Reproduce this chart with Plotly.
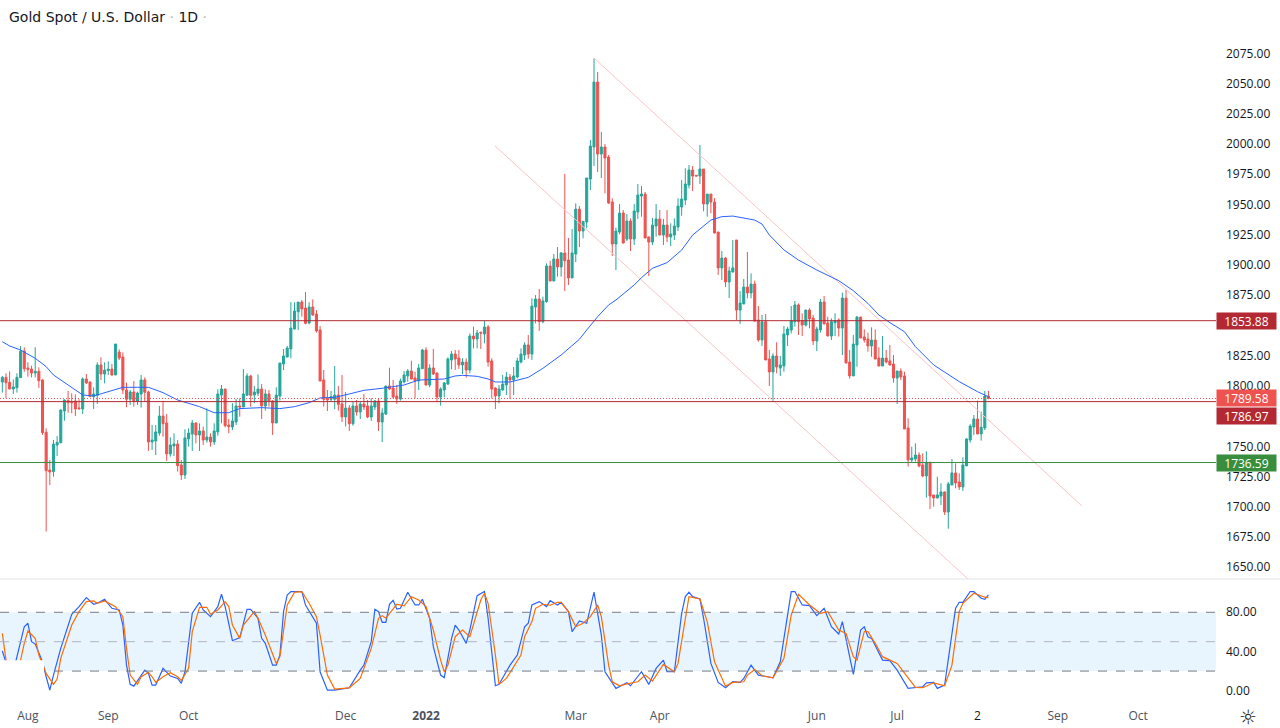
import plotly.graph_objects as go

# daily candles
opens = [1803.2,1807.0,1802.9,1797.4,1798.5,1806.8,1828.8,1814.8,1813.9,1810.6,1812.0,1804.9,1761.6,1730.4,1729.1,1751.1,1753.0,1779.2,1787.8,1786.4,
1787.5,1781.7,1780.9,1805.7,1803.2,1791.1,1792.2,1817.3,1809.8,1812.6,1813.9,1809.0,1828.0,1823.9,1796.6,1788.9,1794.9,1787.2,1793.3,1804.9,
1794.9,1753.6,1754.4,1761.0,1775.1,1769.3,1743.7,1750.3,1751.9,1734.6,1726.3,1756.1,1760.2,1769.3,1759.4,1762.7,1755.2,1757.7,1753.6,1761.9,
1792.4,1797.4,1767.6,1766.0,1770.1,1783.4,1782.5,1792.2,1808.2,1792.4,1793.8,1797.4,1783.4,1793.3,1787.5,1769.3,1791.6,1818.1,1823.9,1830.5,
1847.0,1861.3,1869.3,1864.4,1852.0,1865.2,1859.4,1846.2,1804.9,1789.7,1788.9,1788.9,1792.4,1785.0,1774.3,1781.7,1768.7,1783.4,1778.4,1785.0,
1783.4,1774.3,1782.5,1787.5,1770.1,1776.7,1799.9,1798.2,1791.6,1789.1,1803.2,1808.2,1812.3,1806.5,1804.0,1814.2,1829.6,1800.7,1814.8,1810.6,
1790.8,1796.6,1801.5,1821.4,1826.3,1823.0,1817.3,1819.7,1813.1,1841.2,1838.8,1844.3,1842.9,1848.7,1820.6,1798.2,1791.6,1796.6,1800.7,1807.3,
1804.9,1807.3,1819.7,1825.5,1833.8,1826.3,1865.2,1871.8,1853.1,1869.6,1899.1,1886.7,1904.9,1898.3,1909.9,1904.1,1889.2,1909.0,1946.2,1928.0,
1935.5,1971.0,1997.5,2051.2,1991.7,1997.5,1989.2,1952.0,1917.3,1927.2,1942.9,1921.4,1936.3,1921.4,1943.8,1957.0,1958.6,1923.1,1918.9,1932.2,
1938.0,1924.7,1933.0,1923.1,1924.7,1931.4,1947.9,1953.7,1966.1,1978.5,1974.1,1973.5,1979.3,1950.4,1958.6,1952.0,1927.2,1897.5,1905.7,1885.9,
1894.2,1920.6,1862.7,1867.7,1881.7,1876.8,1884.2,1854.5,1837.9,1853.1,1822.2,1811.5,1824.7,1814.8,1816.4,1842.1,1846.2,1853.1,1866.9,1853.9,
1850.3,1862.7,1856.1,1837.1,1846.2,1869.3,1852.0,1841.2,1852.2,1854.5,1847.8,1872.6,1819.7,1808.2,1833.8,1856.9,1840.4,1838.8,1833.0,1837.9,
1823.0,1816.4,1823.0,1820.6,1818.1,1806.5,1812.3,1808.2,1765.2,1738.7,1739.5,1742.8,1734.6,1725.5,1736.8,1709.8,1707.3,1709.0,1712.3,1695.7,
1718.0,1728.0,1720.5,1716.4,1733.8,1755.2,1766.0,1772.6,1760.2,1765.2,1791.6]
highs = [1808.2,1810.4,1812.0,1805.4,1810.4,1833.0,1831.9,1819.5,1816.7,1831.9,1815.3,1805.4,1764.9,1738.7,1755.2,1758.5,1780.6,1788.9,1795.8,1793.8,
1793.0,1788.9,1807.0,1809.8,1803.5,1798.8,1819.5,1823.6,1819.5,1820.3,1818.1,1834.6,1830.2,1827.7,1802.6,1796.6,1804.0,1795.2,1809.0,1807.0,
1796.0,1767.6,1767.6,1783.4,1787.2,1776.7,1757.5,1760.8,1755.2,1738.7,1764.1,1764.9,1771.8,1769.8,1769.0,1766.3,1781.4,1760.8,1769.0,1797.1,
1800.7,1797.4,1772.6,1785.6,1789.1,1789.7,1813.9,1810.4,1809.0,1799.9,1809.5,1801.5,1797.1,1796.6,1788.3,1798.8,1818.9,1830.5,1833.0,1869.3,
1869.1,1869.3,1871.0,1877.6,1869.1,1871.5,1862.7,1849.5,1813.1,1796.6,1795.8,1816.4,1799.9,1809.0,1794.9,1784.2,1787.2,1788.3,1787.5,1793.3,
1788.3,1789.7,1788.3,1789.7,1781.4,1799.9,1815.0,1804.9,1800.7,1806.0,1812.3,1813.9,1820.8,1811.7,1818.1,1830.5,1831.9,1817.8,1830.5,1810.9,
1798.8,1803.2,1823.6,1828.8,1829.7,1829.7,1822.8,1822.8,1843.4,1848.9,1846.2,1844.8,1853.6,1850.3,1822.8,1798.8,1800.7,1809.0,1811.5,1809.8,
1815.6,1823.3,1831.0,1836.0,1842.1,1872.4,1875.1,1880.1,1873.8,1901.3,1903.5,1909.0,1914.8,1910.7,1975.2,1922.3,1929.7,1950.9,1948.7,1936.3,
1971.9,2003.3,2070.8,2059.5,2009.9,2000.0,1990.9,1955.1,1930.8,1950.4,1945.4,1942.1,1938.5,1950.4,1966.9,1965.2,1960.3,1923.4,1938.8,1950.4,
1945.4,1938.0,1945.4,1934.4,1938.5,1955.1,1970.2,1979.9,1982.6,1981.8,1974.1,1999.1,1979.3,1958.6,1958.6,1955.3,1927.2,1911.5,1906.6,1898.6,
1920.6,1920.6,1878.4,1888.4,1910.7,1893.0,1887.0,1866.0,1858.6,1859.4,1829.7,1826.9,1836.0,1824.7,1849.5,1848.9,1866.0,1870.2,1868.2,1860.0,
1862.7,1864.1,1858.6,1849.0,1871.8,1874.3,1857.2,1855.8,1860.0,1855.8,1877.1,1879.3,1829.7,1842.1,1857.8,1857.2,1846.7,1844.0,1848.4,1846.7,
1831.9,1841.2,1829.7,1833.8,1825.5,1812.3,1814.5,1811.7,1773.2,1749.7,1752.5,1745.0,1744.2,1745.9,1736.8,1709.8,1724.9,1719.4,1712.5,1720.5,
1739.5,1735.9,1727.7,1740.9,1756.6,1768.2,1775.9,1787.8,1778.7,1795.8,1795.8]
lows = [1794.4,1789.7,1797.1,1793.3,1794.4,1806.8,1811.7,1807.6,1807.0,1807.0,1798.2,1759.4,1679.5,1718.0,1724.9,1742.0,1752.5,1771.2,1777.8,1777.3,
1775.1,1780.0,1776.7,1801.6,1791.1,1780.9,1785.0,1804.8,1802.1,1809.0,1808.4,1809.0,1821.4,1793.3,1782.3,1784.2,1782.8,1784.2,1782.0,1786.9,
1746.2,1747.0,1742.8,1758.8,1758.0,1737.9,1741.5,1742.0,1729.1,1722.2,1723.0,1749.7,1746.2,1752.5,1746.2,1751.1,1753.0,1749.7,1751.1,1758.8,
1769.0,1765.7,1760.8,1763.5,1767.6,1774.5,1782.5,1792.2,1782.8,1785.6,1791.6,1772.6,1779.5,1782.8,1759.4,1769.3,1787.8,1813.1,1823.6,1822.8,
1846.7,1846.2,1857.2,1850.9,1850.9,1857.8,1844.0,1804.0,1782.8,1779.2,1786.9,1780.6,1779.5,1770.1,1766.3,1762.7,1767.1,1775.4,1772.6,1780.0,
1773.2,1771.0,1780.0,1762.7,1753.6,1775.9,1796.6,1789.7,1785.0,1787.8,1802.1,1803.5,1805.4,1789.7,1796.6,1814.2,1800.4,1798.8,1809.0,1786.4,
1783.6,1790.5,1800.7,1813.7,1813.1,1814.0,1809.8,1806.8,1810.4,1831.0,1831.0,1830.5,1835.2,1815.9,1789.7,1780.9,1785.6,1796.0,1792.4,1789.1,
1792.4,1806.2,1818.6,1821.4,1822.5,1821.4,1851.7,1845.4,1851.7,1868.8,1886.7,1886.7,1890.3,1890.3,1878.4,1883.4,1889.2,1902.4,1914.8,1922.0,
1930.3,1961.9,1981.8,1976.8,1971.9,1959.2,1950.4,1907.4,1895.8,1925.3,1917.8,1919.8,1911.5,1916.5,1938.0,1939.9,1922.0,1890.8,1916.5,1923.4,
1924.7,1916.5,1918.7,1915.6,1920.6,1928.0,1940.7,1949.5,1963.3,1961.1,1973.5,1966.9,1944.3,1939.9,1942.7,1926.1,1891.7,1887.5,1881.7,1872.6,
1893.6,1854.5,1851.2,1867.7,1872.4,1872.4,1853.1,1836.5,1833.0,1821.4,1799.9,1786.9,1810.4,1808.2,1811.7,1833.0,1843.4,1849.0,1842.1,1841.2,
1849.0,1847.6,1833.8,1828.8,1844.0,1851.2,1841.2,1837.9,1841.2,1840.7,1825.5,1818.6,1806.0,1808.2,1815.9,1839.3,1835.7,1828.3,1824.1,1821.9,
1816.4,1816.4,1818.6,1816.7,1802.6,1785.0,1804.9,1764.3,1733.2,1736.5,1737.3,1732.6,1724.4,1707.6,1698.2,1700.1,1707.0,1701.5,1693.2,1681.9,
1718.0,1715.3,1713.9,1713.1,1733.8,1753.0,1759.4,1760.2,1754.7,1763.5,1788.9]
closes = [1807.0,1802.6,1797.4,1799.1,1807.0,1828.6,1814.2,1813.7,1810.6,1812.0,1804.3,1761.3,1729.9,1728.8,1751.9,1753.3,1780.0,1788.3,1786.1,1786.1,
1780.9,1781.2,1805.7,1802.4,1791.1,1793.3,1817.3,1809.8,1813.1,1813.9,1809.0,1834.6,1823.0,1796.6,1788.9,1794.9,1787.2,1794.1,1804.9,1794.7,
1753.6,1755.2,1761.9,1775.1,1768.7,1743.7,1751.1,1751.9,1734.0,1726.3,1756.9,1761.0,1769.3,1759.4,1762.7,1755.2,1757.7,1753.6,1762.7,1793.3,
1797.4,1767.1,1766.3,1771.0,1783.4,1782.5,1793.3,1808.2,1792.2,1794.9,1797.4,1783.4,1793.3,1787.5,1769.3,1792.4,1818.9,1824.7,1831.3,1847.8,
1861.9,1869.3,1863.6,1851.7,1865.2,1858.6,1845.4,1804.0,1788.9,1788.3,1791.1,1792.4,1784.7,1774.3,1781.7,1768.7,1783.4,1778.4,1785.0,1782.5,
1774.3,1783.4,1787.5,1770.1,1777.6,1799.9,1797.4,1790.8,1789.1,1804.0,1809.0,1812.3,1805.7,1804.0,1814.8,1829.6,1800.7,1814.8,1809.8,1790.8,
1797.4,1802.4,1822.2,1826.3,1822.2,1817.3,1819.7,1813.1,1841.2,1838.8,1843.7,1843.7,1848.7,1819.7,1797.4,1791.6,1797.4,1801.5,1807.3,1804.9,
1808.2,1820.6,1826.3,1833.8,1826.3,1866.0,1871.8,1853.1,1870.2,1899.1,1886.7,1904.9,1898.3,1909.9,1903.5,1889.2,1909.9,1946.2,1928.0,1936.0,
1971.9,1998.3,2051.2,1991.7,1997.5,1988.4,1951.2,1917.3,1928.0,1942.9,1918.1,1936.3,1921.4,1944.6,1957.8,1958.6,1922.3,1918.9,1933.0,1938.0,
1924.7,1933.0,1923.1,1925.6,1932.2,1948.7,1954.5,1966.9,1978.5,1973.5,1973.5,1979.3,1950.4,1958.6,1952.0,1926.4,1897.5,1905.7,1885.9,1895.0,
1897.5,1862.7,1868.5,1881.7,1876.8,1884.2,1853.6,1837.9,1853.1,1821.4,1811.5,1824.7,1815.6,1817.3,1842.9,1847.0,1853.9,1866.9,1853.1,1850.3,
1862.7,1855.3,1837.1,1847.0,1869.3,1851.2,1841.2,1853.1,1853.9,1847.8,1872.6,1818.9,1808.2,1834.6,1856.9,1839.6,1837.9,1833.0,1837.9,1822.2,
1816.4,1823.0,1819.7,1817.3,1806.5,1812.3,1807.3,1764.3,1738.7,1740.4,1742.8,1733.8,1725.5,1736.8,1708.9,1707.3,1709.8,1712.3,1695.7,1718.9,
1728.0,1719.7,1716.4,1734.6,1756.1,1766.8,1772.6,1760.2,1765.7,1791.6,1789.58]
bars = list(range(len(closes)))

# moving average, read at turning points
ma_bars = [0,2,5,9,12,14,18,22,25,30,33,37,40,44,48,54,58,62,65,71,76,80,84,87,91,95,99,104,110,114,121,124,126,130,133,135,139,144,148,153,
158,160,163,166,168,173,175,178,182,186,189,194,197,200,204,206,208,210,214,218,223,229,233,237,240,243,247,250,255,259,262,267,270]
ma_values = [1836.5,1833.0,1829.6,1822.8,1815.9,1809.0,1800.7,1792.5,1791.6,1796.0,1798.8,1798.8,1798.8,1794.4,1788.3,1782.8,1777.8,1777.8,1781.2,1782.0,
1781.2,1782.8,1786.1,1790.0,1790.5,1793.3,1796.3,1798.0,1800.7,1804.8,1805.7,1808.2,1808.7,1807.9,1805.7,1803.2,1803.2,1807.0,1814.5,1825.5,
1838.5,1846.2,1857.2,1866.9,1871.0,1883.4,1889.5,1897.2,1901.9,1912.3,1924.7,1937.1,1939.9,1940.4,1938.2,1937.1,1933.8,1924.8,1912.4,1904.0,
1895.8,1887.0,1878.7,1868.2,1858.6,1852.3,1844.8,1832.4,1817.3,1809.0,1803.5,1795.2,1791.0]

# channel lines
upper_bars = [162, 295.6]
upper_prices = [2071.1, 1700.7]
lower_bars = [134.9, 264.4]
lower_prices = [1998.4, 1640.3]

resistance = 1853.88
pivot = 1786.97
support = 1736.59
last_close = 1789.58

# stochastic
k_bars = [0,1,3,5,6,7,8,9,10,11,12,13,14,16,19,21,23,25,26,28,30,32,33,34,35,36,39,40,41,42,44,46,48,49,50,52,54,55,57,59,60,61,63,65,67,68,70,71,72,74,75,76,77,78,79,82,83,86,87,89,91,95,98,99,101,102,103,104,105,106,107,108,109,111,113,114,115,117,118,120,121,123,124,125,127,128,130,132,133,135,136,
139,141,143,144,145,147,149,150,152,153,155,156,158,160,162,164,165,168,171,172,175,177,179,181,182,184,186,187,188,189,191,192,194,196,198,200,202,203,205,207,209,211,213,215,216,217,219,221,223,225,227,229,230,233,235,236,237,238,241,243,245,248,252,253,255,256,258,261,262,263,265,266,268,269,270]
k_values = [40.5,28.9,19.3,50.0,65.3,68.8,50.0,47.6,38.0,29.5,14.2,0.5,15.9,43.2,78.0,85.8,95.0,88.2,89.2,93.3,84.1,82.4,67.0,26.1,6.4,4.6,21.0,17.6,5.7,5.7,22.7,14.9,12.5,7.4,19.3,79.0,90.2,82.4,75.6,85.8,98.4,85.8,51.0,54.1,83.0,83.0,73.9,53.4,48.3,26.1,26.1,36.4,80.7,97.7,101.2,101.2,87.5,68.8,19.3,0.5,0.5,2.9,21.0,26.1,50.0,83.0,80.7,69.8,69.8,88.2,92.3,83.4,84.1,100.5,87.5,87.5,93.3,73.9,44.9,15.9,13.2,53.4,67.0,61.9,48.3,61.9,97.0,101.2,73.9,5.0,6.4,
26.1,36.4,65.3,68.8,87.5,90.9,85.8,91.9,87.5,90.2,80.7,60.2,71.1,68.8,100.5,56.8,19.3,2.3,8.0,5.0,19.3,6.4,22.7,31.2,19.3,19.3,79.0,96.0,100.5,96.0,93.6,73.9,27.8,8.4,2.9,9.1,8.4,12.5,26.1,15.9,14.2,13.2,29.5,80.7,101.2,101.2,87.5,86.8,76.6,84.1,65.3,57.8,70.5,16.6,61.9,65.3,55.1,53.4,31.2,30.6,21.0,2.3,4.0,8.0,8.4,2.3,5.7,84.1,90.2,90.2,101.2,101.2,94.3,93.3,97.7]
d_bars = [0,1,3,5,6,7,9,10,12,14,15,16,19,21,23,25,26,28,31,33,34,35,37,38,40,41,42,44,46,48,49,51,52,54,56,57,59,61,62,63,65,66,69,70,72,74,75,76,77,78,80,82,84,86,87,89,91,95,98,99,101,103,104,105,108,110,112,114,116,118,120,121,122,124,126,128,129,131,132,133,135,136,
138,140,142,143,145,146,148,150,152,153,155,157,159,161,163,164,166,167,169,171,174,176,178,181,184,185,187,188,191,193,195,197,198,200,203,204,206,208,211,214,216,218,221,224,226,229,231,233,234,236,237,239,241,245,250,252,255,258,260,262,263,266,269,270]
d_values = [58.5,31.2,19.3,31.2,48.3,60.9,53.4,36.4,17.6,6.4,11.8,33.0,67.0,80.7,90.9,91.6,89.2,91.6,85.8,75.6,43.2,15.9,6.4,14.2,18.6,14.2,8.4,14.2,18.3,14.2,10.4,22.7,60.2,85.1,85.1,78.0,82.4,90.9,85.8,67.0,53.4,67.0,80.7,73.9,56.8,36.4,27.8,34.7,60.2,87.5,100.5,101.2,89.2,75.6,56.8,15.9,1.6,2.9,12.5,22.7,43.2,73.9,76.6,73.9,88.2,86.5,96.0,92.6,85.8,61.9,31.2,19.3,26.1,55.1,61.9,55.1,67.0,92.6,99.4,89.2,36.4,6.4,
12.5,24.4,36.4,55.1,70.5,84.1,88.2,87.2,90.2,90.2,80.7,65.3,68.8,75.6,87.5,75.6,26.1,9.1,5.0,7.0,9.1,15.9,9.7,26.8,19.3,27.8,73.9,96.0,93.6,70.5,29.5,12.5,4.6,8.4,9.1,15.9,21.7,15.2,13.2,33.0,77.3,98.4,87.5,79.0,80.7,61.9,58.5,34.7,31.2,60.2,60.2,48.3,34.7,27.8,3.3,3.0,8.0,5.0,26.1,80.7,89.2,99.4,95.4,95.0]

price_ticks = [2075,2050,2025,2000,1975,1950,1925,1900,1875,1825,1800,1750,1725,1700,1675,1650]
osc_ticks = [80,40,0]
time_tick_bars = [7,29,51,94,116,157,180,223,245,267,289,311]
time_tick_labels = ["Aug","Sep","Oct","Dec","<b>2022</b>","Mar","Apr","Jun","Jul",'<span style="color:#131722">2</span>',"Sep","Oct"]

UP = "#26a69a"
DOWN = "#ef5350"
DARK_RED = "#b22833"
GREEN = "#388e3c"
FONT = "Open Sans"
X_RANGE = [-0.64, 332.3]

fig = go.Figure()

fig.add_trace(go.Candlestick(
    x=bars, open=opens, high=highs, low=lows, close=closes,
    increasing=dict(line=dict(color=UP, width=1), fillcolor=UP),
    decreasing=dict(line=dict(color=DOWN, width=1), fillcolor=DOWN),
    whiskerwidth=0,
))
fig.add_trace(go.Scatter(x=upper_bars, y=upper_prices, mode="lines", line=dict(color="#f9c4c7", width=1)))
fig.add_trace(go.Scatter(x=lower_bars, y=lower_prices, mode="lines", line=dict(color="#f9c4c7", width=1)))
fig.add_trace(go.Scatter(x=ma_bars, y=ma_values, mode="lines", line=dict(color="#2962ff", width=1)))
fig.add_trace(go.Scatter(x=k_bars, y=k_values, yaxis="y2", mode="lines", line=dict(color="#2962ff", width=1.2)))
fig.add_trace(go.Scatter(x=d_bars, y=d_values, yaxis="y2", mode="lines", line=dict(color="#ff6d00", width=1.2)))

# horizontal levels
for level, color, dash in [(resistance, DARK_RED, "solid"), (pivot, DARK_RED, "solid"),
                           (support, GREEN, "solid"), (last_close, DOWN, "1px,2px")]:
    fig.add_shape(type="line", xref="paper", x0=0, x1=1, yref="y", y0=level, y1=level,
                  line=dict(color=color, width=1, dash=dash))

# oscillator band and its guide lines
fig.add_shape(type="rect", xref="paper", x0=0, x1=1, yref="y2", y0=20, y1=80,
              fillcolor="rgba(33,150,243,0.1)", line_width=0, layer="below")
for level, color in [(80, "#787b86"), (50, "#b2b5be"), (20, "#787b86")]:
    fig.add_shape(type="line", xref="paper", x0=0, x1=1, yref="y2", y0=level, y1=level,
                  line=dict(color=color, width=1, dash="dash"))
# blank patch in the lower left of the oscillator pane
fig.add_shape(type="rect", xref="x", x0=-0.64, x1=11.4, yref="y2", y0=31, y1=-12,
              fillcolor="white", line_width=0, layer="above")

# pane separator
fig.add_shape(type="line", xref="paper", x0=0, x1=1.06, yref="paper", y0=0.1764, y1=0.1764,
              line=dict(color="#e0e3eb", width=1))

# price tags on the scale, the pivot tag sits just under the last close tag
for level, text, color, shift in [(resistance, "1853.88", DARK_RED, 0), (last_close, "1789.58", DOWN, 0),
                                  (pivot, "1786.97", DARK_RED, -14.5), (support, "1736.59", GREEN, 0)]:
    fig.add_annotation(xref="paper", x=1, xanchor="left", yref="y", y=level, yanchor="middle",
                       yshift=shift, text=text, showarrow=False, width=59, height=16, borderpad=0,
                       align="center", bgcolor=color, font=dict(family=FONT, size=12, color="white"))

fig.add_annotation(xref="paper", x=0, xanchor="left", xshift=7, yref="paper", y=1, yanchor="top", yshift=-7,
                   text='Gold Spot / U.S. Dollar <span style="color:#b2b5be">·</span> 1D <span style="color:#b2b5be">·</span>',
                   showarrow=False, font=dict(family="DejaVu Sans", size=14, color="#131722"))
fig.add_annotation(xref="paper", x=1, xanchor="left", xshift=21, yref="paper", y=0, yanchor="top", yshift=0,
                   text="☼", showarrow=False, font=dict(family="DejaVu Sans", size=20, color="#131722"))

fig.update_layout(
    width=1280, height=728, margin=dict(l=0, r=64, t=0, b=25),
    paper_bgcolor="white", plot_bgcolor="white", showlegend=False, hovermode=False, boxgap=0.2,
    font=dict(family=FONT, size=12, color="#131722"),
    xaxis=dict(anchor="y2", range=X_RANGE, rangeslider_visible=False, showgrid=False, zeroline=False,
               showline=False, tickmode="array", tickvals=time_tick_bars, ticktext=time_tick_labels,
               ticks="", ticklabelstandoff=4, tickfont=dict(size=12, color="#4c525e")),
    yaxis=dict(domain=[0.1764, 1], range=[1640.3, 2119.07], side="right", showgrid=False, zeroline=False,
               tickmode="array", tickvals=price_ticks, tickformat=".2f", ticks="", ticklabelstandoff=9),
    yaxis2=dict(domain=[0, 0.175], range=[-12.6, 113], side="right", showgrid=False, zeroline=False,
                tickmode="array", tickvals=osc_ticks, tickformat=".2f", ticks="", ticklabelstandoff=9),
)

# the page's default body margin would push the figure 8px off
fig.write_html("out.html", config={"displayModeBar": False}, post_script="document.body.style.margin='0';")
